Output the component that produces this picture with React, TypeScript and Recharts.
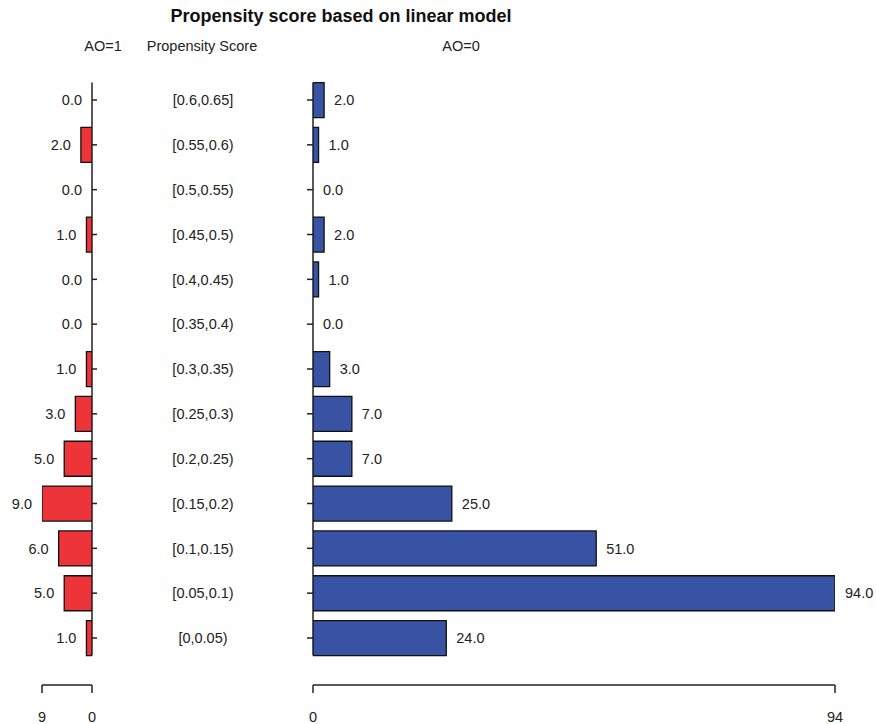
import { BarChart, Bar, XAxis, YAxis, LabelList, ReferenceArea } from 'recharts';

const categories = [
  '[0.6,0.65]', '[0.55,0.6)', '[0.5,0.55)', '[0.45,0.5)', '[0.4,0.45)',
  '[0.35,0.4)', '[0.3,0.35)', '[0.25,0.3)', '[0.2,0.25)', '[0.15,0.2)',
  '[0.1,0.15)', '[0.05,0.1)', '[0,0.05)',
];
const ao1 = [0, 2, 0, 1, 0, 0, 1, 3, 5, 9, 6, 5, 1];
const ao0 = [2, 1, 0, 2, 1, 0, 3, 7, 7, 25, 51, 94, 24];
const ao1Ticks = [0, 9];
const ao0Ticks = [0, 94];

const data = categories.map((cat, i) => ({ cat, ao1: ao1[i], ao0: ao0[i] }));

const FONT = 'Arial, "Liberation Sans", sans-serif';
const INK = '#222';
const RED = '#ED3438';
const BLUE = '#3953A4';
const TOP = 77.6;
const PAD_BOTTOM = 24.6;
const FS = 14.5;
const BAR = 35;

const txt = (x: number, y: number, s: string, anchor: 'start' | 'middle' | 'end') => (
  <text x={x} y={y} dy="0.36em" textAnchor={anchor} fontSize={FS} fill={INK} fontFamily={FONT}>
    {s}
  </text>
);

// left panel y tick: category label in the middle column, plus "0.0" for empty bars
function LeftTick(props: any) {
  const { x, y, payload, index } = props;
  const axisX = x - 5;
  return (
    <g>
      {txt(203, y, payload.value, 'middle')}
      {ao1[index] === 0 && txt(axisX - 10, y, '0.0', 'end')}
    </g>
  );
}

function RightTick(props: any) {
  const { x, y, index } = props;
  const axisX = x + 6;
  return <g>{ao0[index] === 0 && txt(axisX + 10, y, '0.0', 'start')}</g>;
}

// zero line, running from the top of the first bar to the bottom of the last
function VLine(props: any) {
  const { x, y, height } = props;
  const inset = (height / categories.length - BAR) / 2;
  return <line x1={x} x2={x} y1={y + inset} y2={y + height - inset} stroke={INK} strokeWidth={1.5} />;
}

function valueLabel(side: 'left' | 'right') {
  return (props: any) => {
    const vb = props.viewBox ?? props;
    const { x, y, width, height } = vb;
    const lo = Math.min(x, x + width);
    const hi = Math.max(x, x + width);
    return side === 'left'
      ? txt(lo - 10, y + height / 2, Number(props.value).toFixed(1), 'end')
      : txt(hi + 10, y + height / 2, Number(props.value).toFixed(1), 'start');
  };
}

const axisTick = { fontSize: FS, fill: INK, fontFamily: FONT };

export default function App() {
  return (
    <div style={{ position: 'absolute', left: 0, top: 0, width: 876, height: 724, background: '#fff', fontFamily: FONT, color: INK }}>
      <div style={{ position: 'absolute', left: 0, width: 682, top: 6, textAlign: 'center', fontSize: 18, fontWeight: 'bold', color: '#111' }}>
        Propensity score based on linear model
      </div>
      <div style={{ position: 'absolute', left: 63, width: 80, top: 38, textAlign: 'center', fontSize: FS }}>AO=1</div>
      <div style={{ position: 'absolute', left: 112, width: 180, top: 38, textAlign: 'center', fontSize: FS }}>Propensity Score</div>
      <div style={{ position: 'absolute', left: 421, width: 80, top: 38, textAlign: 'center', fontSize: FS }}>AO=0</div>

      <div style={{ position: 'absolute', left: 0, top: 0 }}>
        <BarChart
          layout="vertical"
          width={300}
          height={724}
          data={data}
          margin={{ top: TOP, right: 0, left: 42, bottom: 0 }}
        >
          <XAxis
            type="number"
            domain={[0, 9]}
            reversed
            ticks={ao1Ticks}
            allowDataOverflow
            height={39}
            stroke={INK}
            strokeWidth={1.5}
            tickSize={8}
            tickMargin={19}
            tick={axisTick}
          />
          <YAxis
            type="category"
            dataKey="cat"
            orientation="right"
            width={208}
            axisLine={false}
            tickLine={{ stroke: INK, strokeWidth: 1.5 }}
            tickSize={5}
            tickMargin={0}
            interval={0}
            padding={{ top: 0, bottom: PAD_BOTTOM }}
            tick={<LeftTick />}
          />
          <ReferenceArea x1={0} x2={0} y1={categories[0]} y2={categories[categories.length - 1]} shape={VLine} ifOverflow="visible" />
          <Bar dataKey="ao1" fill={RED} stroke="#111" strokeWidth={1.3} barSize={BAR} isAnimationActive={false}>
            <LabelList dataKey="ao1" content={valueLabel('left')} />
          </Bar>
        </BarChart>
      </div>

      <div style={{ position: 'absolute', left: 300, top: 0 }}>
        <BarChart
          layout="vertical"
          width={576}
          height={724}
          data={data}
          margin={{ top: TOP, right: 41, left: 0, bottom: 0 }}
        >
          <XAxis
            type="number"
            domain={[0, 94]}
            ticks={ao0Ticks}
            allowDataOverflow
            height={39}
            stroke={INK}
            strokeWidth={1.5}
            tickSize={8}
            tickMargin={19}
            tick={axisTick}
          />
          <YAxis
            type="category"
            dataKey="cat"
            width={13}
            axisLine={false}
            tickLine={{ stroke: INK, strokeWidth: 1.5 }}
            tickSize={6}
            tickMargin={0}
            interval={0}
            padding={{ top: 0, bottom: PAD_BOTTOM }}
            tick={<RightTick />}
          />
          <ReferenceArea x1={0} x2={0} y1={categories[0]} y2={categories[categories.length - 1]} shape={VLine} ifOverflow="visible" />
          <Bar dataKey="ao0" fill={BLUE} stroke="#111" strokeWidth={1.3} barSize={BAR} isAnimationActive={false}>
            <LabelList dataKey="ao0" content={valueLabel('right')} />
          </Bar>
        </BarChart>
      </div>
    </div>
  );
}
